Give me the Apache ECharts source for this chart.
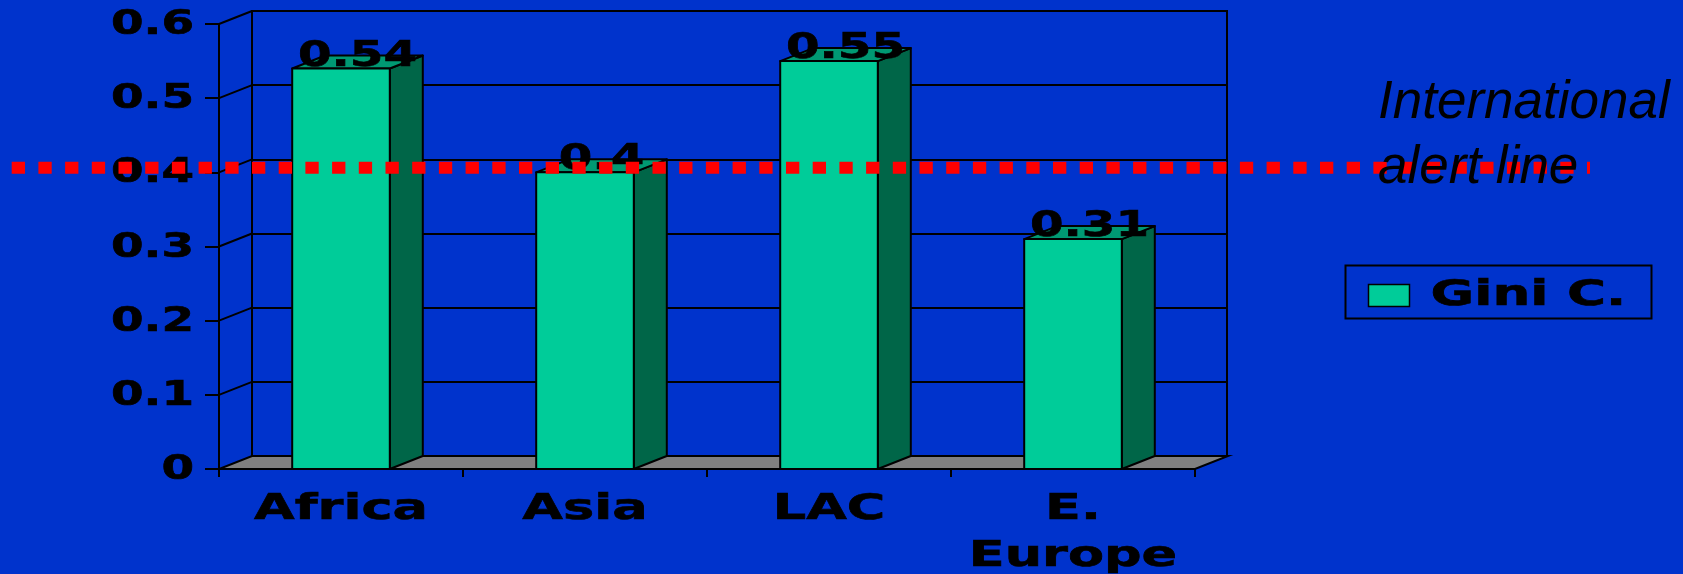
<!DOCTYPE html>
<html>
<head>
<meta charset="utf-8">
<title>Gini coefficient by region</title>
<script src="https://cdn.jsdelivr.net/npm/echarts@6/dist/echarts.min.js"></script>
<style>
  html, body { margin: 0; padding: 0; background: #0033CC; }
  #chart { width: 1683px; height: 574px; }
</style>
</head>
<body>
<div id="chart"></div>
<script>
// Regions and their Gini coefficients
const categories = ['Africa', 'Asia', 'LAC', 'E. Europe'];
const giniValues = [0.54, 0.40, 0.55, 0.31];
const seriesName = 'Gini C.';

// Value axis ticks and their labels
const yTicks = [0, 0.1, 0.2, 0.3, 0.4, 0.5, 0.6];
const yTickLabels = ['0', '0.1', '0.2', '0.3', '0.4', '0.5', '0.6'];

// Threshold drawn as the dotted red line
const alertLevel = 0.4;
const alertText = 'International\nalert line';

// 3D depth offset of the box (pixels)
const DX = 33, DY = 13;

const FRONT = '#00CC99', SIDE = '#006648', TOP = '#009973';
const BOLD = 'DejaVu Sans';

const chart = echarts.init(document.getElementById('chart'), null, { renderer: 'canvas' });

// Heavy, wide text: bold face, lightly outlined, stretched horizontally
function stretchedText(x, y, text, size, sx, align, extra) {
  return Object.assign({
    type: 'text',
    x: x, y: y,
    scaleX: sx,
    style: {
      text: text,
      x: 0, y: 0,
      fill: '#000',
      stroke: '#000',
      lineWidth: 0.6,
      font: 'bold ' + size + 'px "' + BOLD + '"',
      align: align,
      verticalAlign: 'middle'
    }
  }, extra || {});
}

const option = {
  backgroundColor: '#0033CC',
  animation: false,
  grid: [
    // front plane: axes, bars
    { left: 219, right: 488, top: 24, bottom: 105 },
    // back wall
    { left: 252, right: 456, top: 11, bottom: 118, show: true,
      borderColor: '#000', borderWidth: 2, backgroundColor: 'transparent' }
  ],
  xAxis: [
    { type: 'category', gridIndex: 0, data: categories, boundaryGap: true,
      axisLine: { show: true, lineStyle: { color: '#000', width: 2 } },
      axisTick: { show: true, length: 8, lineStyle: { color: '#000', width: 2 } },
      axisLabel: { show: false }, splitLine: { show: false } },
    { type: 'category', gridIndex: 1, data: categories, show: false }
  ],
  yAxis: [
    { type: 'value', gridIndex: 0, min: 0, max: 0.6, interval: 0.1,
      axisLine: { show: true, lineStyle: { color: '#000', width: 2 } },
      axisTick: { show: true, length: 14, lineStyle: { color: '#000', width: 2 } },
      axisLabel: { show: false }, splitLine: { show: false } },
    { type: 'value', gridIndex: 1, min: 0, max: 0.6, interval: 0.1,
      axisLine: { show: true, lineStyle: { color: '#000', width: 2 } },
      axisTick: { show: false }, axisLabel: { show: false },
      splitLine: { show: true, lineStyle: { color: '#000', width: 2 } } }
  ],
  series: [
    // floor and left side wall edges
    {
      type: 'custom', xAxisIndex: 0, yAxisIndex: 0, z: 1, silent: true,
      data: yTicks.map(v => [0, v]),
      encode: { x: 0, y: 1 },
      renderItem: function (params, api) {
        const cs = params.coordSys;
        const v = api.value(1);
        const y = api.coord([0, v])[1];
        const left = cs.x;
        if (v === 0) {
          const right = cs.x + cs.width;
          return {
            type: 'polygon',
            shape: { points: [[left, y], [right, y], [right + DX, y - DY], [left + DX, y - DY]] },
            style: { fill: '#808080', stroke: '#000', lineWidth: 2 }
          };
        }
        return {
          type: 'line',
          shape: { x1: left, y1: y, x2: left + DX, y2: y - DY },
          style: { stroke: '#000', lineWidth: 2 }
        };
      }
    },
    // value-axis labels
    {
      type: 'custom', xAxisIndex: 0, yAxisIndex: 0, z: 3, silent: true,
      data: yTicks.map((v, i) => [0, v, i]),
      encode: { x: 0, y: 1 },
      renderItem: function (params, api) {
        const y = api.coord([0, api.value(1)])[1];
        return stretchedText(params.coordSys.x - 25, y + 1.5, yTickLabels[api.value(2)], 33, 1.42, 'right');
      }
    },
    // category labels
    {
      type: 'custom', xAxisIndex: 0, yAxisIndex: 0, z: 3, silent: true,
      data: categories.map((c, i) => [i, 0]),
      encode: { x: 0, y: 1 },
      renderItem: function (params, api) {
        const i = api.value(0);
        const p = api.coord([i, 0]);
        const text = categories[i].replace('. ', '.\n');
        const el = stretchedText(p[0], p[1] + 17, text, 35, 1.5, 'center');
        el.style.verticalAlign = 'top';
        el.style.lineHeight = 47;
        return el;
      }
    },
    // 3D bars
    {
      name: seriesName,
      type: 'custom', xAxisIndex: 0, yAxisIndex: 0, z: 2,
      data: giniValues.map((v, i) => [i, v]),
      encode: { x: 0, y: 1 },
      renderItem: function (params, api) {
        const i = api.value(0), v = api.value(1);
        const top = api.coord([i, v]);
        const base = api.coord([i, 0]);
        const bw = api.size([1, 0])[0] * 0.4;
        const x0 = top[0] - bw / 2, x1 = top[0] + bw / 2;
        const yt = top[1], yb = base[1];
        const edge = { stroke: '#000', lineWidth: 2, lineJoin: 'round' };
        return {
          type: 'group',
          children: [
            { type: 'polygon',
              shape: { points: [[x1, yt], [x1 + DX, yt - DY], [x1 + DX, yb - DY], [x1, yb]] },
              style: Object.assign({ fill: SIDE }, edge) },
            { type: 'polygon',
              shape: { points: [[x0, yt], [x0 + DX, yt - DY], [x1 + DX, yt - DY], [x1, yt]] },
              style: Object.assign({ fill: TOP }, edge) },
            { type: 'rect',
              shape: { x: x0, y: yt, width: bw, height: yb - yt },
              style: Object.assign({ fill: FRONT }, edge) },
            stretchedText(top[0] + DX / 2, yt - 12, String(v), 35, 1.38, 'center')
          ]
        };
      }
    },
    // dotted alert line
    {
      type: 'custom', xAxisIndex: 0, yAxisIndex: 0, z: 5, silent: true,
      data: [[0, alertLevel]],
      encode: { x: 0, y: 1 },
      renderItem: function (params, api) {
        const y = api.coord([0, api.value(1)])[1] - 4.6;
        return {
          type: 'line',
          shape: { x1: 11.7, y1: y, x2: 1590, y2: y },
          style: { stroke: '#FF0000', lineWidth: 12, lineDash: [13.3, 13.4], lineCap: 'butt' }
        };
      }
    }
  ],
  graphic: [
    {
      type: 'text', left: 1378, top: 71, z: 10,
      style: {
        text: alertText,
        fill: '#000',
        font: 'italic 53px "Liberation Sans"',
        lineHeight: 65
      }
    },
    {
      type: 'group', left: 1343, top: 263, z: 10,
      children: [
        { type: 'rect', shape: { x: 0, y: 0, width: 306, height: 53 },
          style: { fill: 'none', stroke: '#000', lineWidth: 2 } },
        { type: 'rect', shape: { x: 23, y: 19, width: 41, height: 22 },
          style: { fill: FRONT, stroke: '#000', lineWidth: 1.5 } },
        stretchedText(85, 30, seriesName, 35, 1.52, 'left')
      ]
    }
  ]
};

chart.setOption(option);
</script>
</body>
</html>
